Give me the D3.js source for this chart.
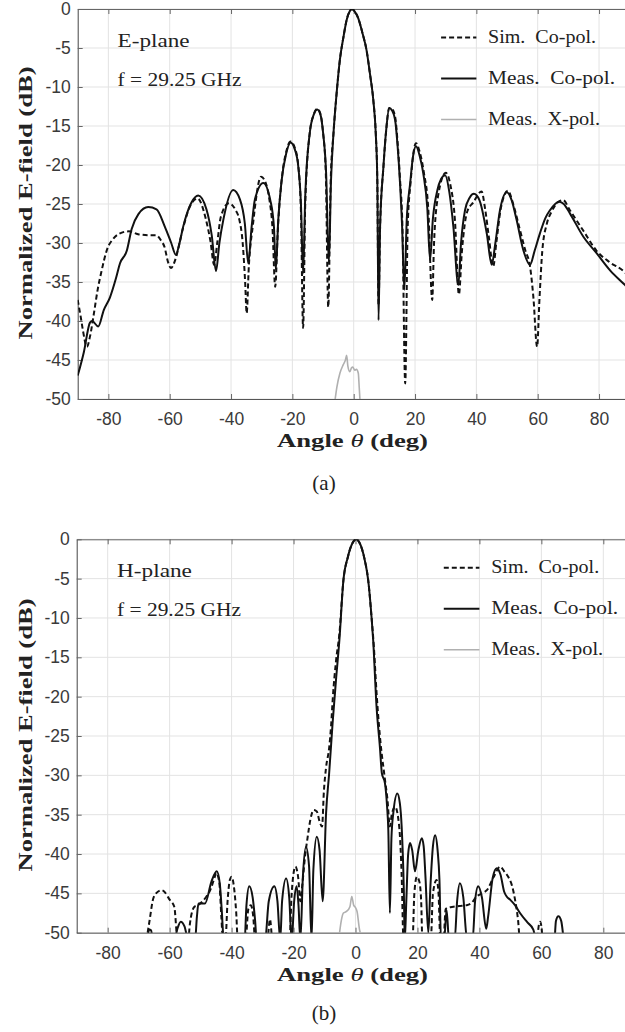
<!DOCTYPE html>
<html>
<head>
<meta charset="utf-8">
<script src="https://cdn.jsdelivr.net/npm/d3@7"></script>
<style>
body { margin: 0; background: #fff; }
text { white-space: pre; }
</style>
</head>
<body>
<div id="chart-area"></div>
<script>
const xTicks = [-80, -60, -40, -20, 0, 20, 40, 60, 80];
const yTicks = [0, -5, -10, -15, -20, -25, -30, -35, -40, -45, -50];
const legendLabels = ["Sim.  Co-pol.", "Meas.  Co-pol.", "Meas.  X-pol."];
const freqLabel = "f = 29.25 GHz";

// (a) E-plane, [angle deg, dB]
const eSimCo = [[-90,-37.3],[-89,-39.5],[-88.3,-41.2],[-87,-43.3],[-86,-42],[-84.7,-39],[-83.5,-36],[-82.4,-33.9],[-80.3,-30.7],
  [-78.5,-29.5],[-76.4,-28.8],[-73.3,-28.5],[-70,-28.9],[-66,-29],[-64.5,-29],[-62.8,-29.7],[-61.7,-30.5],[-60.5,-32.5],
  [-59.6,-33.2],[-58.5,-32.5],[-57.9,-31.8],[-55.6,-28],[-53,-25],[-50.9,-24.3],[-48.3,-26.8],[-46.7,-29.8],[-45.5,-32.8],
  [-44.5,-30],[-43.3,-26.6],[-40.7,-24.9],[-38.5,-25.8],[-37.3,-27],[-36.2,-30],[-35.4,-35],[-34.9,-39],[-34.2,-33],
  [-32.9,-27.8],[-30.2,-21.5],[-28.5,-22.5],[-27.5,-24.4],[-26.5,-28],[-25.6,-35.6],[-24.7,-28],[-23.4,-21.6],[-22,-18.3],
  [-20.6,-17],[-19.2,-17.8],[-18.1,-20],[-17.2,-26],[-16.5,-40.9],[-15.8,-25],[-14.3,-15.8],[-13,-13.5],[-11.9,-12.8],
  [-10.8,-13.5],[-10,-15.8],[-9.1,-21],[-8.3,-38.2],[-7.5,-22],[-6.6,-16],[-5.5,-10.5],[-4.5,-6.5],[-3.3,-3.5],[-2.3,-1.4],
  [-1.3,-0.3],[-0.6,0],[0.3,-0.3],[1.5,-1.2],[2.8,-3],[4.2,-5.3],[5.3,-8.3],[6.4,-11.7],[7.2,-16],[7.7,-22],[8.1,-38],
  [8.6,-28],[9.7,-20.2],[10.6,-15.5],[11.6,-12.7],[12.5,-12.8],[13.5,-13.8],[14.3,-17],[15.1,-21.8],[15.9,-28],[16.8,-48],
  [17.6,-28],[18.6,-22],[20.3,-17.2],[21.5,-18.3],[22.9,-21],[24.3,-25.5],[25.6,-37.3],[26.2,-30],[27.5,-24],[30,-21],
  [31.5,-22.5],[33,-27],[34.3,-36.6],[35.3,-31],[37,-26],[39,-24.8],[41.7,-23.4],[42.8,-25.5],[44,-29],[45.5,-33],
  [46.5,-30],[48,-25.5],[50.3,-23.3],[52,-25],[54,-28],[56,-31],[57.5,-33],[58.6,-37],[59.8,-43.3],[60.6,-37],[61.5,-31],
  [63,-27.5],[64.5,-26],[66.5,-24.8],[68.3,-24.5],[70.5,-25.8],[75,-28.5],[79.2,-31],[83.6,-32.5],[88.5,-33.8],[90,-34.5]];

const eMeasCo = [[-90,-47],[-88,-44],[-86,-40.2],[-85.3,-40],[-83.3,-40.7],[-81.5,-38.6],[-79.5,-37],[-77.5,-34.5],
  [-76.2,-32.6],[-74,-31],[-72.4,-28.2],[-70.2,-26.3],[-67,-25.4],[-64.3,-25.7],[-61.6,-27.9],[-59.5,-30],[-58,-31.5],
  [-56.8,-30],[-55.6,-27.9],[-52.9,-24.8],[-50.7,-23.9],[-48,-25.7],[-46.3,-29],[-44.9,-33.6],[-43.8,-30],[-42.5,-27],
  [-39.3,-23.2],[-37.1,-24.4],[-35.5,-27.5],[-34.4,-32.6],[-33.3,-28],[-32.2,-24.4],[-29.5,-22.3],[-27.2,-24.5],[-26,-28],
  [-25.4,-33.4],[-24.6,-27],[-23.6,-22.3],[-22,-18.5],[-20.6,-17.1],[-19.2,-18],[-18.1,-20.1],[-17.2,-25],[-16.5,-33.9],
  [-15.8,-24],[-14.3,-15.8],[-13,-13.5],[-11.9,-12.9],[-10.8,-13.6],[-10,-15.8],[-9,-21],[-8.1,-32.6],[-7.4,-22],
  [-6.6,-16],[-5.5,-10.5],[-4.5,-6.5],[-3.3,-3.5],[-2.3,-1.4],[-1.3,-0.3],[-0.6,0],[0.3,-0.3],[1.5,-1.2],[2.8,-3],
  [4.2,-5.3],[5.3,-8.3],[6.4,-11.7],[7.2,-16],[7.7,-22],[8.1,-39.9],[8.6,-28],[9.7,-20.2],[10.6,-15.5],[11.6,-12.7],
  [12.5,-13],[13.5,-14.2],[14.3,-17.5],[15.1,-22.3],[15.8,-28],[16.5,-36],[17.3,-27],[18.4,-22.4],[19.3,-19],[20.3,-17.6],
  [21.5,-18.8],[22.7,-21.1],[24,-25.5],[24.9,-32.2],[25.8,-27],[27.3,-23.2],[28.5,-21.8],[29.8,-21.3],[31.2,-23.5],
  [32.5,-27.9],[34.1,-35.4],[35,-30],[36.3,-25.8],[37.8,-24.2],[39.2,-23.7],[41,-24.5],[43.4,-28.8],[45,-32.8],[46.2,-30],
  [47.7,-25.8],[49.9,-23.5],[51.5,-24.5],[53.1,-27],[55.3,-30.9],[57.5,-32.8],[59,-31],[60.7,-28.8],[62.5,-26.8],
  [64,-25.8],[67,-24.7],[68.5,-25],[70.5,-26.2],[74.9,-29.2],[79.2,-31.3],[83.6,-33.5],[88.5,-35.4],[90,-36]];

const eMeasX = [[-6.2,-50.5],[-5.5,-48.5],[-4.5,-46.7],[-3.4,-45.6],[-2.7,-45],[-2.3,-44.4],[-1.9,-45.8],[-1.3,-46.5],
  [-0.7,-46],[-0.3,-45.9],[0.3,-46.3],[0.9,-46.2],[1.5,-46.7],[1.8,-48.5],[2.1,-50.5]];

// (b) H-plane
const hSimCo = [[-67.5,-51],[-66.3,-48],[-65.5,-46],[-64.4,-45],[-62.5,-44.6],[-61.7,-44.8],[-60,-45.8],[-58.5,-46.7],
  [-57.4,-51],[-54,-51],[-53.5,-49],[-52,-46.7],[-50.9,-46.5],[-48.3,-45.5],[-46.8,-44.5],[-45.5,-43],[-45,-42.4],
  [-44,-43.5],[-43.3,-48],[-42.8,-51],[-42,-51],[-41.3,-46],[-40.5,-43.2],[-40,-42.9],[-39.3,-44],[-38.5,-47.5],[-38,-51],
  [-35.5,-51],[-34.6,-47],[-33.8,-46.5],[-33,-48],[-32.4,-51],[-28.5,-51],[-27.6,-48.3],[-26.8,-51],[-21.3,-51],
  [-20.6,-45],[-19.4,-41.6],[-18.5,-43],[-17.8,-46],[-17.2,-44],[-16.2,-40],[-15.5,-38],[-14.5,-35.5],[-13.5,-34.4],
  [-12.5,-34.6],[-11.5,-36],[-10.8,-36.5],[-10.2,-32],[-9.5,-29],[-8.5,-26.5],[-7.9,-23.8],[-7.3,-20],[-6.3,-15.5],
  [-5.2,-12],[-3.9,-5.2],[-2.5,-2.3],[-1,-0.5],[0.2,0],[1.5,-0.6],[2.8,-2.3],[4.1,-5.2],[5.2,-10],[5.9,-13.5],[6.8,-19.5],
  [7.9,-25.1],[9.5,-30.5],[10.3,-33],[11.1,-36.5],[11.7,-35],[12.8,-34],[14.1,-36.5],[14.9,-42.7],[15.5,-51],[18.4,-51],
  [19,-45],[19.8,-42.9],[20.6,-43.5],[21.2,-46],[21.6,-51],[24.3,-51],[25,-45],[26.2,-43.3],[26.8,-45],[27.4,-51],
  [28.4,-51],[29.1,-47],[30,-46.8],[31.6,-46.7],[33.5,-46.6],[35.9,-46.5],[37.5,-46.2],[39.1,-45.4],[40.8,-45],
  [42.4,-44.6],[44.5,-43],[46.7,-41.6],[48,-42.2],[49.3,-42.9],[50.5,-44],[51.5,-45.8],[52.5,-48.5],[53.1,-51],
  [58.5,-51],[59.2,-49],[59.6,-48.6],[60,-49.2],[60.4,-51]];

const hMeasCo = [[-67.2,-51],[-66.6,-49.6],[-66,-49.7],[-65.4,-51],[-58.5,-51],[-57.5,-49.5],[-56.4,-48.6],[-55.2,-49.2],
  [-53.9,-51],[-51.8,-51],[-51.2,-48],[-50.7,-46.3],[-48.6,-46.3],[-46.5,-43.5],[-44.8,-42.2],[-43.8,-43.8],[-43.2,-47],
  [-42.5,-51],[-35.8,-51],[-35.2,-46.5],[-34.3,-44.1],[-33.2,-45.5],[-32.4,-48.5],[-31.9,-51],[-29.2,-51],[-28,-46],
  [-26.2,-44.1],[-25.2,-46],[-24.3,-51],[-23.7,-46],[-22.4,-43.1],[-21.4,-45.5],[-20.6,-51],[-19.8,-46],[-19,-44.1],
  [-18.4,-46.5],[-17.8,-51],[-17,-43],[-16,-39.1],[-15,-41.5],[-14.2,-51],[-13.6,-42],[-12.5,-37.8],[-11.6,-39.5],
  [-10.6,-46],[-9.5,-34.8],[-8.5,-29.7],[-7.4,-23.4],[-6.3,-17.9],[-5.2,-12.8],[-3.9,-5.2],[-2.5,-2.3],[-1,-0.5],
  [0.2,0],[1.5,-0.6],[2.8,-2.3],[4.1,-5.2],[5.2,-10],[5.7,-12.8],[6.8,-21.3],[7.9,-26.5],[8.5,-29.7],[9.5,-31],
  [10.2,-34],[10.6,-37],[11.1,-47.5],[11.6,-38],[12.2,-34.8],[13.5,-32.3],[14.3,-33.5],[14.9,-36.5],[15.6,-44.6],
  [15.9,-51],[16.4,-46],[17,-40],[17.6,-38.6],[18.3,-39.5],[19.2,-42.2],[20.3,-39.5],[21.4,-38],[22,-39],[22.6,-43],
  [23.5,-50],[24.2,-44],[25,-39],[25.7,-37.6],[26.5,-39.5],[27.1,-43.3],[27.6,-51],[28.6,-51],[29.4,-47.1],[30.2,-51],
  [32,-51],[32.8,-46],[33.7,-43.7],[34.8,-45.5],[35.9,-50.5],[37.8,-51],[38.6,-46],[39.6,-44.1],[40.8,-45.5],[42.2,-49.5],
  [42.8,-48],[44.3,-43],[45.6,-41.8],[46.8,-42.6],[48,-44.8],[48.8,-45.4],[49.9,-45.8],[51.5,-46.5],[53.1,-47.5],
  [55.5,-48.7],[57.4,-49.6],[58.4,-51],[64.2,-51],[64.7,-48.5],[65.5,-47.9],[66.4,-48.5],[67.2,-51]];

const hMeasX = [[-5.3,-50.5],[-4.6,-48.5],[-3.9,-47.5],[-2.9,-47.3],[-1.8,-46.7],[-1.2,-45.4],[-0.6,-46.5],[0,-46.8],
  [0.5,-47.3],[1.3,-49.6],[2,-50.5]];

const width = 625, height = 1032;
const serif = "'Liberation Serif', 'Times New Roman', serif";
const sans = "'Liberation Sans', Arial, sans-serif";

var svg = d3.select("#chart-area").append("svg")
    .attr("width", width)
    .attr("height", height);

var panel = function(cfg) {
    var x = d3.scaleLinear().domain([-90, 90]).range([cfg.left, cfg.right]);
    var y = d3.scaleLinear().domain([-50, 0]).range([cfg.bottom, cfg.top]);
    var g = svg.append("g");

    g.append("clipPath").attr("id", "clip-" + cfg.id)
        .append("rect")
        .attr("x", x(-90)).attr("y", y(0))
        .attr("width", x(90) - x(-90)).attr("height", y(-50) - y(0));

    // grid
    g.append("g").selectAll("line").data(xTicks).enter().append("line")
        .attr("x1", d => x(d)).attr("x2", d => x(d))
        .attr("y1", y(0)).attr("y2", y(-50))
        .attr("stroke", "#e3e3e3").attr("stroke-width", 1);
    g.append("g").selectAll("line").data(yTicks).enter().append("line")
        .attr("x1", x(-90)).attr("x2", x(90))
        .attr("y1", d => y(d)).attr("y2", d => y(d))
        .attr("stroke", "#e3e3e3").attr("stroke-width", 1);

    // axes (plain hyphen minus, as in the figure)
    var fmt = d => String(d);
    var xAxis = g.append("g").attr("transform", "translate(0," + y(-50) + ")")
        .call(d3.axisBottom(x).tickValues(xTicks).tickFormat(fmt).tickSizeInner(-5).tickSizeOuter(0).tickPadding(14));
    var xTop = g.append("g").attr("transform", "translate(0," + y(0) + ")")
        .call(d3.axisTop(x).tickValues(xTicks).tickSizeInner(-5).tickSizeOuter(0).tickFormat(""));
    var yAxis = g.append("g").attr("transform", "translate(" + x(-90) + ",0)")
        .call(d3.axisLeft(y).tickValues(yTicks).tickFormat(fmt).tickSizeInner(-5).tickSizeOuter(0).tickPadding(7));
    [xAxis, xTop, yAxis].forEach(function(a) {
        a.select(".domain").attr("stroke", "#666");
        a.selectAll(".tick line").attr("stroke", "#666");
        a.selectAll("text").attr("font-family", sans).attr("font-size", 17.5).attr("fill", "#3a3a3a");
    });
    xAxis.select(".domain").attr("stroke", "#555");
    yAxis.select(".domain").attr("stroke", "#444");

    // curves
    var line = d3.line().x(d => x(d[0])).y(d => y(d[1])).curve(d3.curveMonotoneX);
    var curves = g.append("g").attr("clip-path", "url(#clip-" + cfg.id + ")");
    curves.append("path").datum(cfg.xpol).attr("d", line)
        .attr("fill", "none").attr("stroke", "#b0b0b0").attr("stroke-width", 1.6);
    curves.append("path").datum(cfg.sim).attr("d", line)
        .attr("fill", "none").attr("stroke", "#111").attr("stroke-width", 2).attr("stroke-dasharray", "5,3");
    curves.append("path").datum(cfg.meas).attr("d", line)
        .attr("fill", "none").attr("stroke", "#111").attr("stroke-width", 2);

    // annotations
    g.append("text").attr("x", x(-77)).attr("y", y(0) + 37.5)
        .attr("font-family", serif).attr("font-size", 18).attr("fill", "#222")
        .attr("textLength", cfg.planeLen).attr("lengthAdjust", "spacingAndGlyphs")
        .text(cfg.plane);
    g.append("text").attr("x", x(-77)).attr("y", y(0) + 76.5)
        .attr("font-family", serif).attr("font-size", 18).attr("fill", "#222")
        .attr("textLength", 124).attr("lengthAdjust", "spacingAndGlyphs")
        .text(freqLabel);

    // legend
    var styles = [{c: "#111", dash: "5,3", w: 2}, {c: "#111", dash: null, w: 2}, {c: "#b0b0b0", dash: null, w: 1.6}];
    var legLens = [108, 127, 112];
    var legend = g.append("g");
    legendLabels.forEach(function(lbl, i) {
        var by = y(0) + 34 + i * 41;
        legend.append("line")
            .attr("x1", x(28.5)).attr("x2", x(40))
            .attr("y1", by - 5.5).attr("y2", by - 5.5)
            .attr("stroke", styles[i].c).attr("stroke-width", styles[i].w)
            .attr("stroke-dasharray", styles[i].dash);
        legend.append("text").attr("x", x(43.8)).attr("y", by)
            .attr("font-family", serif).attr("font-size", 18).attr("fill", "#222")
            .attr("textLength", legLens[i]).attr("lengthAdjust", "spacingAndGlyphs")
            .text(lbl);
    });

    // axis titles
    g.append("text")
        .attr("transform", "translate(32," + (y(-25) - 1) + ") rotate(-90)")
        .attr("text-anchor", "middle")
        .attr("font-family", serif).attr("font-weight", "bold").attr("font-size", 19).attr("fill", "#222")
        .attr("textLength", 273).attr("lengthAdjust", "spacingAndGlyphs")
        .text("Normalized E-field (dB)");

    var xt = g.append("text")
        .attr("x", 352.5).attr("y", y(-50) + 48)
        .attr("text-anchor", "middle")
        .attr("font-family", serif).attr("font-weight", "bold").attr("font-size", 18).attr("fill", "#222")
        .attr("textLength", 151).attr("lengthAdjust", "spacingAndGlyphs");
    xt.append("tspan").text("Angle ");
    xt.append("tspan").attr("font-style", "italic").attr("font-weight", "normal").text("θ");
    xt.append("tspan").text(" (deg)");

    g.append("text").attr("x", 324).attr("y", y(-50) + cfg.capOffset)
        .attr("text-anchor", "middle")
        .attr("font-family", serif).attr("font-size", 21).attr("fill", "#222")
        .text(cfg.caption);
};

panel({id: "a", left: 77.7, right: 629.7, top: 9, bottom: 399,
       sim: eSimCo, meas: eMeasCo, xpol: eMeasX, plane: "E-plane", planeLen: 72, caption: "(a)", capOffset: 91});
panel({id: "b", left: 76.7, right: 634.3, top: 539.3, bottom: 932.7,
       sim: hSimCo, meas: hMeasCo, xpol: hMeasX, plane: "H-plane", planeLen: 75, caption: "(b)", capOffset: 87});
</script>
</body>
</html>
